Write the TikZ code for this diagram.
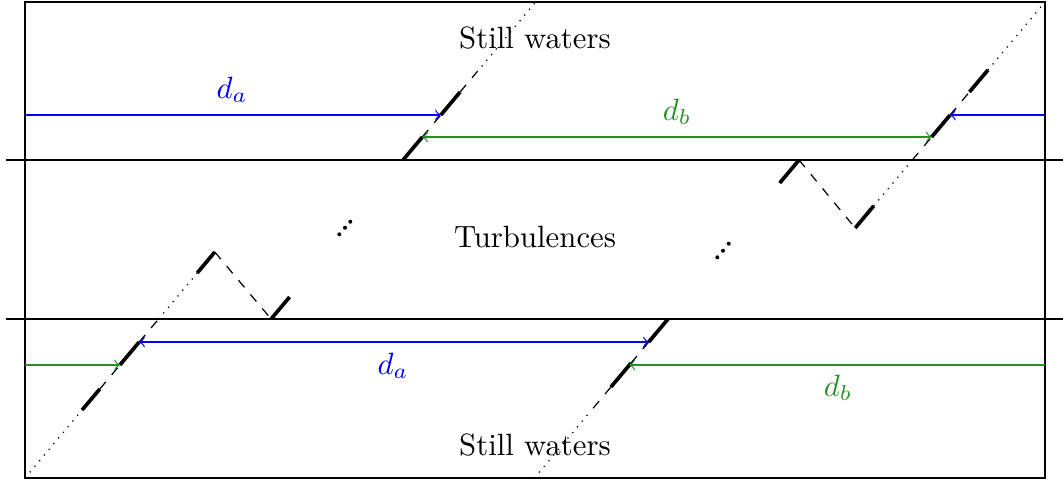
\documentclass[tikz,border=0pt]{standalone}
\definecolor{dagreen}{RGB}{36,145,36}
\definecolor{dablue}{RGB}{0,0,255}
\tikzset{
  layerline/.style={thick},
  seg/.style={very thick},
  far/.style={dotted},
  near/.style={dashed},
  dalbl/.style={anchor=base,inner sep=0pt,text=dablue},
  dblbl/.style={anchor=base,inner sep=0pt,text=dagreen},
  txt/.style={anchor=base,inner sep=0pt},
  daarrow/.style={dablue},
  dbarrow/.style={dagreen},
  dotmark/.style={fill=black}
}
\begin{document}
\begin{tikzpicture}[x=0.325pt,y=-0.325pt]
\useasboundingbox (0,0) rectangle (1063,483);
% frame and layer boundaries
\coordinate (tl) at (25,2);
\coordinate (br) at (1045,478);
\draw (tl) rectangle (br);
\coordinate (h1l) at (6,160);
\coordinate (h1r) at (1063,160);
\coordinate (h2l) at (6,319);
\coordinate (h2r) at (1063,319);
\draw[layerline] (h1l) -- (h1r);
\draw[layerline] (h2l) -- (h2r);
% texts
\node[txt] (sw1) at (535,48) {Still waters};
\node[txt] (turb) at (535,247) {Turbulences};
\node[txt] (sw2) at (535,455) {Still waters};
% line L1 (top left)
\coordinate (a0) at (403,160);
\coordinate (a1) at (422.3,137);
\coordinate (a2) at (440.8,115);
\coordinate (a3) at (460.1,92);
\coordinate (a4) at (476.9,72);
\coordinate (a5) at (535.7,2);
\draw[seg] (a0) -- (a1);
\draw[near] (a1) -- (a2);
\draw[seg] (a2) -- (a3);
\draw[near] (a3) -- (a4);
\draw[far] (a4) -- (a5);
% top right V and line L2
\coordinate (c0) at (779.7,183);
\coordinate (c1) at (799,160);
\coordinate (c2) at (855.2,228);
\coordinate (c3) at (873.6,206);
\coordinate (b1) at (912.3,160);
\coordinate (b2) at (931.6,137);
\coordinate (b3) at (950.1,115);
\coordinate (b4) at (969.4,92);
\coordinate (b5) at (987.9,70);
\coordinate (b6) at (1045,2);
\draw[seg] (c0) -- (c1);
\draw[near] (c1) -- (c2);
\draw[seg] (c2) -- (c3);
\draw[far] (c3) -- (b1);
\draw[near] (b1) -- (b2);
\draw[seg] (b2) -- (b3);
\draw[near] (b3) -- (b4);
\draw[seg] (b4) -- (b5);
\draw[far] (b5) -- (b6);
% line L3 (bottom left) and V
\coordinate (e0) at (25,478);
\coordinate (e1) at (82.1,410);
\coordinate (e2) at (99.8,389);
\coordinate (e3) at (119.9,365);
\coordinate (e4) at (139.2,342);
\coordinate (e5) at (158.6,319);
\coordinate (e6) at (197.2,273);
\coordinate (e7) at (214.8,252);
\coordinate (e8) at (271.1,319);
\coordinate (e9) at (289.6,297);
\draw[far] (e0) -- (e1);
\draw[seg] (e1) -- (e2);
\draw[near] (e2) -- (e3);
\draw[seg] (e3) -- (e4);
\draw[near] (e4) -- (e5);
\draw[far] (e5) -- (e6);
\draw[seg] (e6) -- (e7);
\draw[near] (e7) -- (e8);
\draw[seg] (e8) -- (e9);
% line L4 (bottom right)
\coordinate (f0) at (668,319);
\coordinate (f1) at (648.7,342);
\coordinate (f2) at (631.1,363);
\coordinate (f3) at (610.9,387);
\coordinate (f4) at (587.4,415);
\coordinate (f5) at (534.4,478);
\draw[seg] (f0) -- (f1);
\draw[near] (f1) -- (f2);
\draw[seg] (f2) -- (f3);
\draw[near] (f3) -- (f4);
\draw[far] (f4) -- (f5);
% distances
\coordinate (la) at (25,115);
\coordinate (ra) at (1045,115);
\coordinate (lb) at (25,365);
\coordinate (rb) at (1045,365);
\coordinate (gb) at (629.4,365);
\draw[daarrow,->] (la) -- (a2);
\draw[daarrow,->] (ra) -- (b3);
\draw[dbarrow,<->] (a1) -- (b2);
\draw[daarrow,<->] (e4) -- (f1);
\draw[dbarrow,->] (lb) -- (e3);
\draw[dbarrow,->] (rb) -- (gb);
\node[dalbl] (da1) at (232,98) {$d_a$};
\node[dblbl] (db1) at (677,120) {$d_b$};
\node[dalbl] (da2) at (393,374) {$d_a$};
\node[dblbl] (db2) at (838,396) {$d_b$};
% ellipsis dots
\fill[dotmark] (339.3,234.3) circle (2);
\fill[dotmark] (345,227.7) circle (2);
\fill[dotmark] (350.3,221.7) circle (2);
\fill[dotmark] (717.3,257.3) circle (2);
\fill[dotmark] (723,250.7) circle (2);
\fill[dotmark] (728.7,243.7) circle (2);
\end{tikzpicture}
\end{document}
